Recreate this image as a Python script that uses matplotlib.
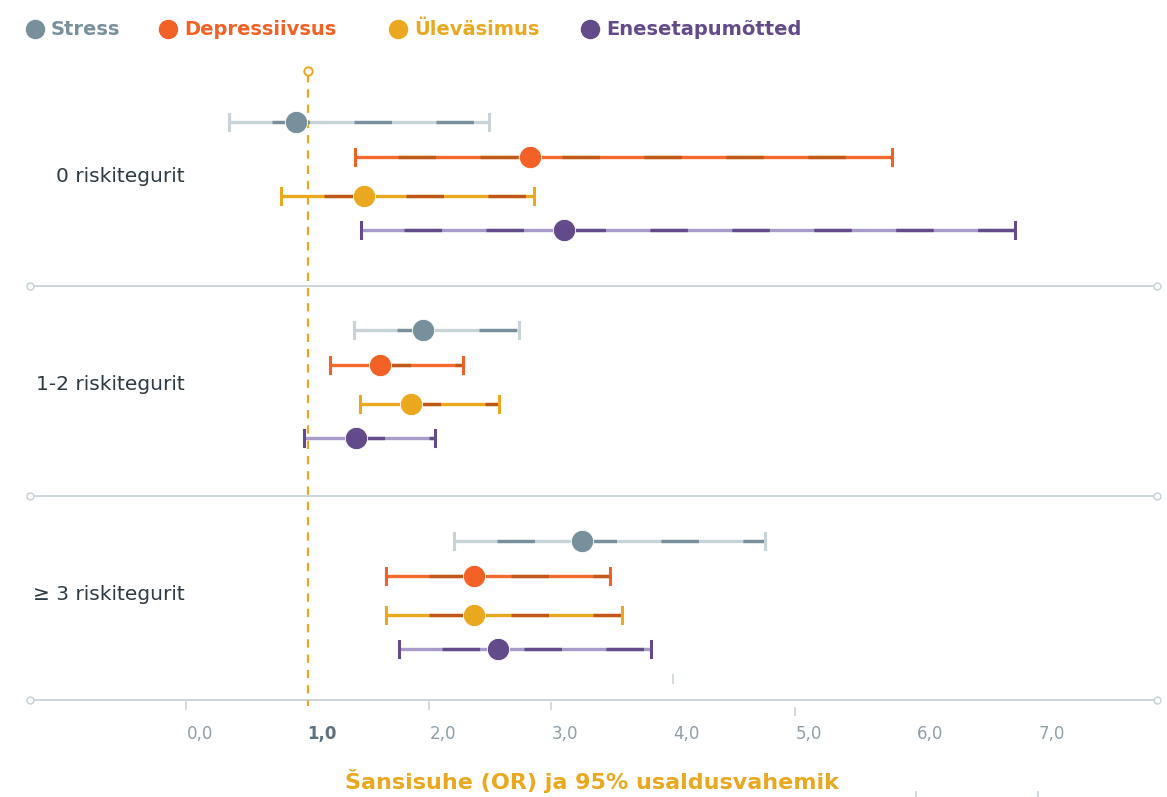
import numpy as np
import matplotlib.pyplot as plt

plt.rcParams['font.family'] = ['DejaVu Sans']
plt.rcParams['lines.scale_dashes'] = False

# odds ratios with 95% confidence limits, per risk-factor group
groups = ['0 riskitegurit', '1-2 riskitegurit', '≥ 3 riskitegurit']
series = ['Stress', 'Depressiivsus', 'Üleväsimus', 'Enesetapumõtted']

or_mid = [
    [0.90, 2.83, 1.46, 3.11],
    [1.95, 1.59, 1.85, 1.40],
    [3.25, 2.37, 2.37, 2.56],
]
or_low = [
    [0.35, 1.39, 0.78, 1.44],
    [1.38, 1.18, 1.43, 0.97],
    [2.20, 1.64, 1.64, 1.75],
]
or_high = [
    [2.49, 5.80, 2.86, 6.81],
    [2.74, 2.28, 2.57, 2.05],
    [4.76, 3.48, 3.58, 3.82],
]

x_ticks = [0, 1, 2, 3, 4, 5, 6, 7]
x_ticklabels = ['0,0', '1,0', '2,0', '3,0', '4,0', '5,0', '6,0', '7,0']

# marker colour, light base line, dark dash overlay, whisker cap colour
dot_col = ['#78909c', '#f26125', '#eaa81f', '#634a8b']
base_col = ['#c8d3d8', '#f26a2e', '#eaa81f', '#a99bc8']
dash_col = ['#78909c', '#bf5a1c', '#c0561a', '#634a8b']
cap_col = ['#c8d3d8', '#f26125', '#eaa81f', '#634a8b']

W, H = 1167, 797
PX = 121.7      # pixels per OR unit
X0 = 186        # pixel of OR = 0

fig = plt.figure(figsize=(W / 100, H / 100), dpi=100)
ax = fig.add_axes([0, 0, 1, 1])
ax.set_xlim(-X0 / PX, (W - X0) / PX)
ax.set_ylim(H, 0)
ax.axis('off')

# row layout in pixels
group_top = [122, 330, 541]
row_off = [0, 35, 74, 108]
sep_y = [286, 496, 700]
x_left = (30 - X0) / PX
x_right = (1157 - X0) / PX

# separators / axis line with hollow end dots
for y in sep_y:
    ax.plot([x_left, x_right], [y, y], color='#c8d3d8', lw=1.3, zorder=1)
    ax.plot([x_left, x_right], [y, y], 'o', ms=5, mfc='white', mec='#c8d3d8', mew=1.1, zorder=2)

# reference line at OR = 1
ax.plot([1, 1], [74, 706], color='#eaa81f', lw=1.6, linestyle=(0, (6, 5)), zorder=3)
ax.plot([1], [71], 'o', ms=6, mfc='white', mec='#eaa81f', mew=1.4, zorder=3)

for g, name in enumerate(groups):
    ax.text((185 - X0) / PX, group_top[g] + 54, name, ha='right', va='center',
            fontsize=14.5, color='#2e3a44')
    for s in range(len(series)):
        y = group_top[g] + row_off[s]
        lo, mid, hi = or_low[g][s], or_mid[g][s], or_high[g][s]
        ax.plot([lo, hi], [y, y], color=base_col[s], lw=2.4, solid_capstyle='butt', zorder=4)
        ax.plot([lo, hi], [y, y], color=dash_col[s], lw=2.4, linestyle=(28, (27, 32)), zorder=5)
        for xc in (lo, hi):
            ax.plot([xc, xc], [y - 8, y + 8], color=cap_col[s], lw=2.2, zorder=5)
        ax.plot([mid], [y], 'o', ms=16, color=dot_col[s], mec='white', mew=0.6, zorder=6)

# x tick marks and labels
tick_y = [(702, 709), None, (702, 709), (703, 709), (675, 683), (708, 715), (792, 797), (792, 797)]
for v, lab, ty in zip(x_ticks, x_ticklabels, tick_y):
    if ty is not None:
        ax.plot([v, v], ty, color='#c8d3d8', lw=1.2, zorder=1)
    if v == 1:
        ax.text(v + 14 / PX, 734, lab, ha='center', va='center', fontsize=12,
                fontweight='bold', color='#5d707c')
    else:
        ax.text(v + 14 / PX, 734, lab, ha='center', va='center', fontsize=12,
                color='#8f9ea8')

ax.text((592 - X0) / PX, 781, 'Šansisuhe (OR) ja 95% usaldusvahemik', ha='center',
        va='center', fontsize=16, fontweight='bold', color='#eaa81f')

# legend along the top
leg_x = [35, 168, 398, 590]
for s, name in enumerate(series):
    ax.plot([(leg_x[s] - X0) / PX], [29], 'o', ms=13, color=dot_col[s], zorder=6)
    ax.text((leg_x[s] + 16 - X0) / PX, 29, name, ha='left', va='center',
            fontsize=14, fontweight='bold', color=dot_col[s])

fig.savefig('out.png', dpi=100)
